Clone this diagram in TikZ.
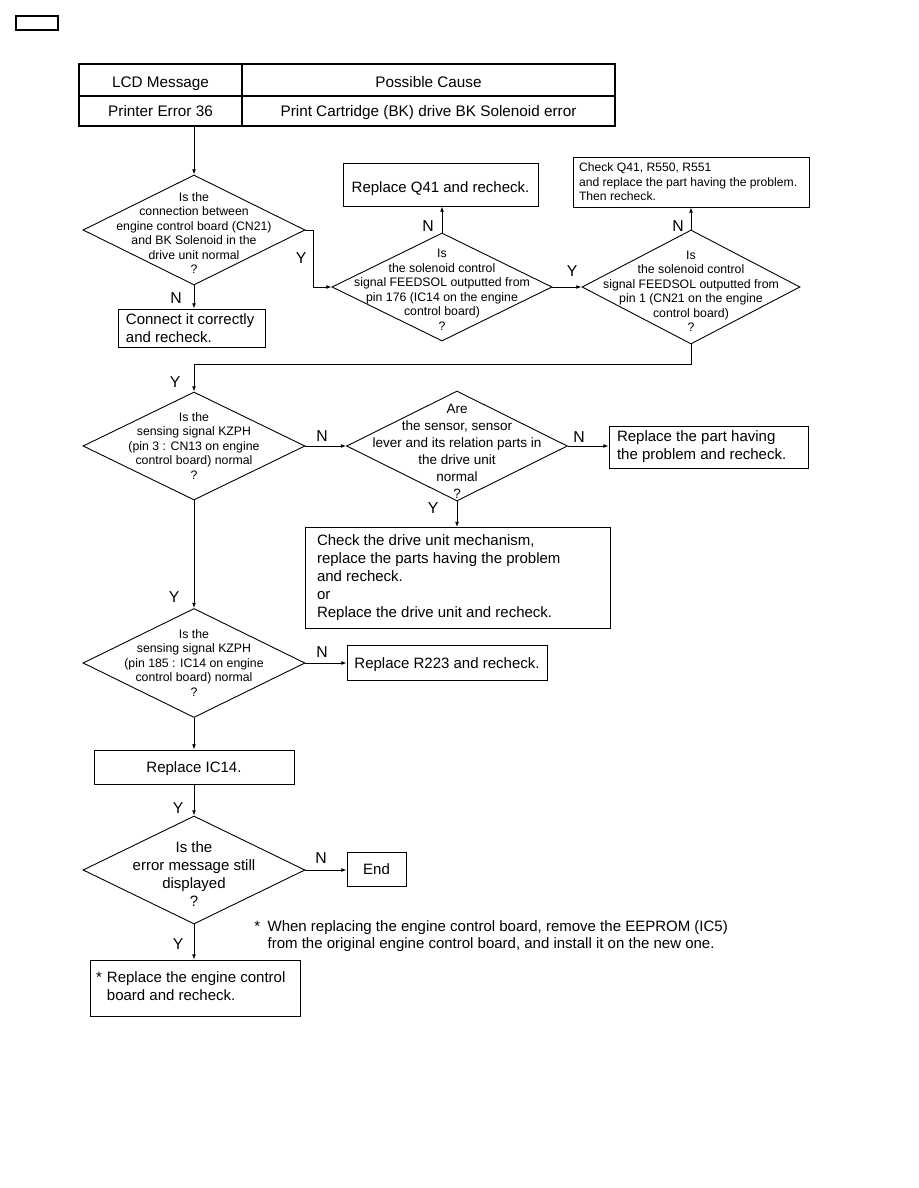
\documentclass[tikz,border=0pt]{standalone}
\usepackage{fontspec}
\setmainfont{Liberation Sans}
\usetikzlibrary{arrows.meta,shapes.geometric}
\tikzset{
  cell/.style={draw,line width=0.9pt,inner sep=0pt,text height=9.5pt,text depth=1.8pt,font=\fontsize{10.2}{12}\selectfont},
  blk/.style={draw,line width=0.6pt,inner sep=0pt,font=\fontsize{10}{12}\selectfont},
  one/.style={text height=9.5pt,text depth=1.8pt},
  low/.style={text height=10.8pt,text depth=0.5pt},
  qd/.style={diamond,draw,line width=0.6pt,inner sep=0pt,font=\fontsize{8.2}{9.7}\selectfont},
  arr/.style={line width=0.6pt,-{Latex[length=3.5pt,width=2.6pt]}},
  yn/.style={inner sep=0pt,font=\fontsize{10.5}{12}\selectfont}
}
\newcommand{\qtxt}[2][-3pt]{\makebox[0pt]{\smash{\raisebox{#1}{\begin{tabular}{@{}c@{}}#2\end{tabular}}}}}

\begin{document}
\begin{tikzpicture}[x=0.6667pt,y=-0.6667pt]
\useasboundingbox (0,0) rectangle (918,1188);
\node[draw,line width=0.9pt,inner sep=0pt,minimum width=28pt,minimum height=9.3pt] (tag) at (37,23) {};

% error table
\node[cell,low,minimum width=108.7pt,minimum height=21.3pt] (hmsg) at (160.5,80) {LCD Message};
\node[cell,low,minimum width=248.7pt,minimum height=21.3pt] (hcause) at (428.5,80) {Possible Cause};
\node[cell,minimum width=108.7pt,minimum height=20pt] (emsg) at (160.5,111) {Printer Error 36};
\node[cell,minimum width=248.7pt,minimum height=20pt] (ecause) at (428.5,111) {Print Cartridge (BK) drive BK Solenoid error};

% decisions
\node[qd,minimum width=148pt,minimum height=73.3pt] (d1) at (194,230)
  {\qtxt[-5pt]{Is the\\connection between\\engine control board (CN21)\\and BK Solenoid in the\\drive unit normal\\?}};
\node[qd,minimum width=146.7pt,minimum height=72pt] (d2) at (442,287)
  {\qtxt[-4.7pt]{Is\\the solenoid control\\signal FEEDSOL outputted from\\pin 176 (IC14 on the engine\\control board)\\?}};
\node[qd,minimum width=145.3pt,minimum height=76pt] (d3) at (691,287)
  {\qtxt[-5.7pt]{Is\\the solenoid control\\signal FEEDSOL outputted from\\pin 1 (CN21 on the engine\\control board)\\?}};
\node[qd,minimum width=148pt,minimum height=72pt] (d4) at (194,446)
  {\qtxt{Is the\\sensing signal KZPH\\(pin 3 : CN13 on engine\\control board) normal\\?}};
\node[qd,minimum width=147.3pt,minimum height=73.3pt,font=\fontsize{9}{11.3}\selectfont] (d5) at (457,446)
  {\qtxt[-6.9pt]{Are\\the sensor, sensor\\lever and its relation parts in\\the drive unit\\normal\\?}};
\node[qd,minimum width=148pt,minimum height=72.7pt] (d6) at (194,663)
  {\qtxt{Is the\\sensing signal KZPH\\(pin 185 : IC14 on engine\\control board) normal\\?}};
\node[qd,minimum width=148pt,minimum height=72pt,font=\fontsize{10}{12}\selectfont] (d7) at (194,870)
  {\qtxt[-6.7pt]{Is the\\error message still\\displayed\\?}};

% actions
\node[blk,inner xsep=5.3pt,text width=87.4pt,align=flush left,minimum height=25.3pt] (conn) at (191.5,328)
  {Connect it correctly\\and recheck.};
\node[blk,low,minimum width=130pt,minimum height=28.7pt] (q41) at (440.5,184.5) {Replace Q41 and recheck.};
\node[blk,inner xsep=4pt,text width=149.3pt,align=flush left,minimum height=33.3pt,font=\fontsize{8.1}{9.7}\selectfont] (chk) at (691,182)
  {Check Q41, R550, R551\\and replace the part having the problem.\\Then recheck.};
\node[blk,inner xsep=5.3pt,text width=122pt,align=flush left,minimum height=28pt] (part) at (708.5,447)
  {Replace the part having\\the problem and recheck.};
\node[blk,inner xsep=8pt,text width=187.3pt,align=flush left,minimum height=67.3pt] (mech) at (457.5,578)
  {Check the drive unit mechanism,\\replace the parts having the problem\\and recheck.\\or\\Replace the drive unit and recheck.};
\node[blk,one,minimum width=133.3pt,minimum height=23.3pt] (r223) at (447,662.5) {Replace R223 and recheck.};
\node[blk,one,minimum width=133.3pt,minimum height=22.7pt] (ic14) at (194,767) {Replace IC14.};
\node[blk,one,minimum width=39.3pt,minimum height=22.7pt] (fin) at (376.5,869) {End};
\node[blk,inner xsep=4pt,text width=132pt,align=flush left,minimum height=37.3pt] (eng) at (195,988)
  {\begin{tabular}{@{}l@{\hspace{3.4pt}}l@{}}*&Replace the engine control\\&board and recheck.\end{tabular}};

% note
\node[anchor=north west,inner sep=0pt,font=\fontsize{10}{11.3}\selectfont] (note) at (254,919)
  {\begin{tabular}{@{}l@{\hspace{5pt}}l@{}}*&When replacing the engine control board, remove the EEPROM (IC5)\\&from the original engine control board, and install it on the new one.\end{tabular}};

% connectors
\draw[arr] (d1.north |- emsg.south) -- (d1.north);
\draw[arr] (d1.south) -- (d1.south |- conn.north);
\draw[arr] (d1.east) -- ++(8,0) |- (d2.west);
\draw[arr] (d2.north) -- (d2.north |- q41.south);
\draw[arr] (d2.east) -- (d3.west);
\draw[arr] (d3.north) -- (d3.north |- chk.south);
\draw[arr] (d3.south) -- ++(0,20) -| (d4.north);
\draw[arr] (d4.east) -- (d5.west);
\draw[arr] (d5.east) -- (d5.east -| part.west);
\draw[arr] (d5.south) -- (d5.south |- mech.north);
\draw[arr] (d4.south) -- (d6.north);
\draw[arr] (d6.east) -- (d6.east -| r223.west);
\draw[arr] (d6.south) -- (ic14.north);
\draw[arr] (ic14.south) -- (d7.north);
\draw[arr] (d7.east) -- (d7.east -| fin.west);
\draw[arr] (d7.south) -- (d7.south |- eng.north);

% Y / N marks
\node[yn] (n1) at (176,298) {N};
\node[yn] (y1) at (301,258) {Y};
\node[yn] (n2) at (428,226) {N};
\node[yn] (y2) at (572,271) {Y};
\node[yn] (n3) at (678,226) {N};
\node[yn] (y3) at (175,382) {Y};
\node[yn] (n4) at (322,436) {N};
\node[yn] (n5) at (579,437) {N};
\node[yn] (y5) at (433,508) {Y};
\node[yn] (y4) at (174,597) {Y};
\node[yn] (n6) at (322,652) {N};
\node[yn] (y6) at (178,808) {Y};
\node[yn] (n7) at (321,858) {N};
\node[yn] (y7) at (178,944) {Y};
\end{tikzpicture}
\end{document}
